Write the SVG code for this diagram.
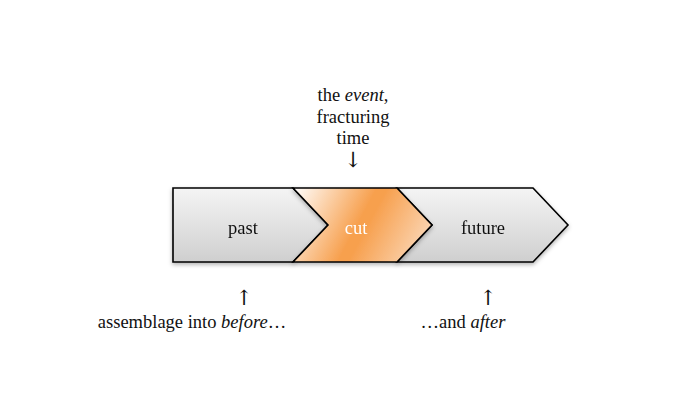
<svg xmlns="http://www.w3.org/2000/svg" width="700" height="419" viewBox="0 0 700 419">
<defs>
<linearGradient id="gray" x1="0" y1="0" x2="0" y2="1">
<stop offset="0" stop-color="#f4f4f4"/>
<stop offset="1" stop-color="#cfcfcf"/>
</linearGradient>
<linearGradient id="orange" x1="293" y1="188" x2="432" y2="262" gradientUnits="userSpaceOnUse">
<stop offset="0" stop-color="#ffffff"/>
<stop offset="0.47" stop-color="#f7a04e"/>
<stop offset="0.53" stop-color="#f7a04e"/>
<stop offset="1" stop-color="#fbe2cc"/>
</linearGradient>
<filter id="sh" x="-10%" y="-10%" width="120%" height="130%">
<feDropShadow dx="0" dy="2" stdDeviation="2" flood-color="#000" flood-opacity="0.3"/>
</filter>
</defs>
<style>
.shape{stroke:#000;stroke-width:1.6;stroke-linejoin:miter}
text{font-family:"Liberation Serif","Times New Roman","DejaVu Serif",serif;font-size:18.5px;fill:#111;text-anchor:middle}
.arr{font-family:"DejaVu Serif","Liberation Serif",serif;font-size:21px}
</style>
<rect width="700" height="419" fill="#fff"/>
<g id="past" filter="url(#sh)">
<polygon class="shape" points="173,188 293,188 328,225 293,262 173,262" fill="url(#gray)"/>
<text x="243" y="234">past</text>
</g>
<g id="future" filter="url(#sh)">
<polygon class="shape" points="397,188 533,188 568,225 533,262 397,262 432,225" fill="url(#gray)"/>
<text x="483" y="234">future</text>
</g>
<g id="cut" filter="url(#sh)">
<polygon class="shape" points="293,188 397,188 432,225 397,262 293,262 328,225" fill="url(#orange)"/>
<text x="356" y="234" style="fill:#fff">cut</text>
</g>
<g id="event">
<text x="353" y="101">the <tspan font-style="italic">event</tspan>,</text>
<text x="353" y="123">fracturing</text>
<text x="353" y="144">time</text>
<text class="arr" x="353" y="167">↓</text>
</g>
<g id="before">
<text class="arr" x="244" y="305">↑</text>
<text x="192" y="328">assemblage into <tspan font-style="italic">before</tspan>…</text>
</g>
<g id="after">
<text class="arr" x="488" y="305">↑</text>
<text x="463" y="328">…and <tspan font-style="italic">after</tspan></text>
</g>
<g id="connectors"/>
</svg>
